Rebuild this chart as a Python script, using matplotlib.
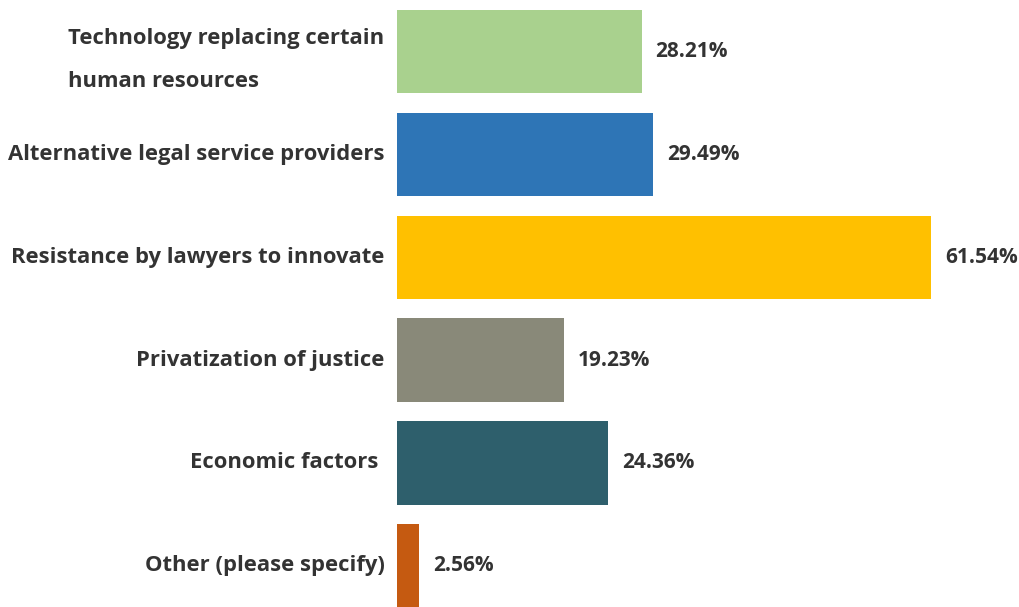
import matplotlib.pyplot as plt

categories = ['Technology replacing certain\nhuman resources',
              'Alternative legal service providers',
              'Resistance by lawyers to innovate',
              'Privatization of justice',
              'Economic factors ',
              'Other (please specify)']
values = [28.21, 29.49, 61.54, 19.23, 24.36, 2.56]
colors = ['#A9D18E', '#2E75B6', '#FFC000', '#898979', '#2E5F6C', '#C55A11']

plt.rcParams['font.family'] = ['Open Sans', 'DejaVu Sans']
txt = '#333333'

fig = plt.figure(figsize=(10.19, 6.07), dpi=100)
ax = fig.add_axes([397/1019, 0, 622/1019, 1])
y = list(range(len(values)))
ax.barh(y, values, height=0.81, color=colors)
ax.set_xlim(0, 71.7)
ax.set_ylim(5.4, -0.5)

for yi, v in zip(y, values):
    ax.annotate(f'{v:.2f}%', (v, yi), xytext=(10, 0), textcoords='offset points',
                va='center', ha='left', fontsize=15, fontweight='bold', color=txt,
                annotation_clip=False)

for yi, lab in zip(y, categories):
    dy = -6 if '\n' in lab else 0
    ax.annotate(lab, (0, yi), xytext=(-9, dy), textcoords='offset points',
                va='center', ha='right', fontsize=15.8, fontweight='bold', color=txt,
                multialignment='left', linespacing=2.4, annotation_clip=False)

ax.set_xticks([])
ax.set_yticks([])
for s in ax.spines.values():
    s.set_visible(False)

fig.savefig('out.png', dpi=100)
